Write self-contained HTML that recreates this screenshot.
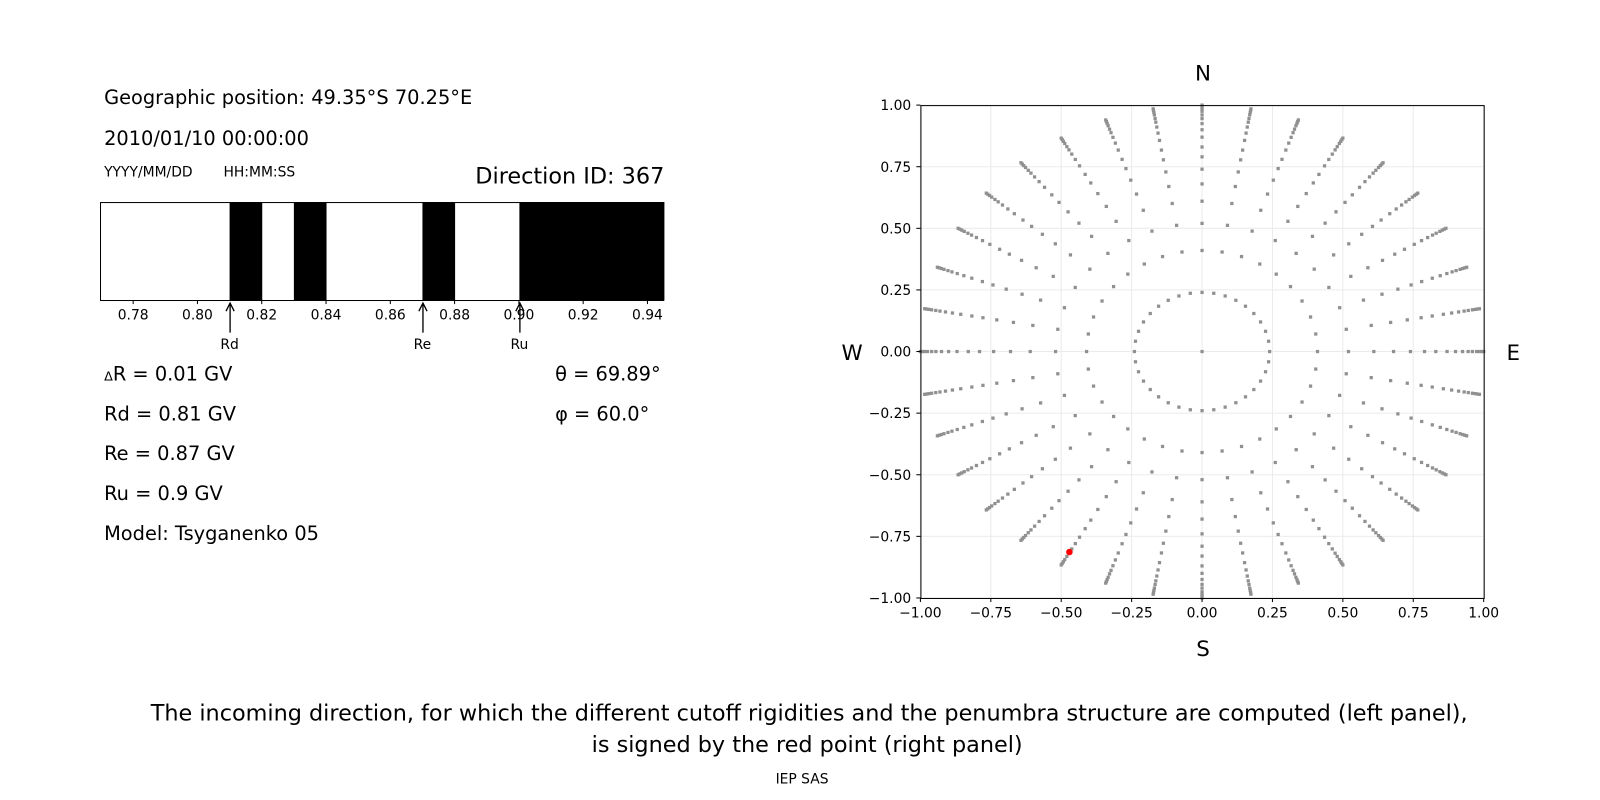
<!DOCTYPE html>
<html><head><meta charset="utf-8"><style>
body{margin:0;background:#fff;}
svg{display:block;font-family:"DejaVu Sans","Liberation Sans",sans-serif;}
</style></head><body>
<svg id="s" width="1600" height="800" viewBox="0 0 1568 784" xmlns="http://www.w3.org/2000/svg">
<rect width="1568" height="784" fill="#fff"/>
<text x="102" y="102" font-size="19">Geographic position: 49.35°S 70.25°E</text>
<text x="102" y="142" font-size="19">2010/01/10 00:00:00</text>
<text x="102" y="173" font-size="13.6">YYYY/MM/DD</text>
<text x="219" y="173" font-size="13.6">HH:MM:SS</text>
<text x="651" y="180" font-size="21.9" text-anchor="end">Direction ID: 367</text>
<rect x="98.5" y="198.5" width="552" height="96" fill="#fff" stroke="#000"/>
<rect x="225" y="198" width="32" height="96" fill="#000"/>
<rect x="288" y="198" width="32" height="96" fill="#000"/>
<rect x="414" y="198" width="32" height="96" fill="#000"/>
<rect x="509" y="198" width="142" height="96" fill="#000"/>
<g font-size="13.6" text-anchor="middle" id="bt"></g>
<g stroke="#000" stroke-width="1.3" fill="none">
<path d="M225.5 326V298M221.5 305L225.5 297L229.5 305"/>
<path d="M414.5 326V298M410.5 305L414.5 297L418.5 305"/>
<path d="M509.5 326V298M505.5 305L509.5 297L513.5 305"/>
</g>
<g font-size="13.6" text-anchor="middle">
<text x="225" y="342">Rd</text><text x="414" y="342">Re</text><text x="509" y="342">Ru</text>
</g>
<g font-size="19">
<text x="102" y="373"><tspan font-size="12.5">Δ</tspan>R = 0.01 GV</text>
<text x="102" y="412">Rd = 0.81 GV</text>
<text x="102" y="451">Re = 0.87 GV</text>
<text x="102" y="490">Ru = 0.9 GV</text>
<text x="102" y="529">Model: Tsyganenko 05</text>
<text x="544" y="373">θ = 69.89°</text>
<text x="544" y="412">φ = 60.0°</text>
</g>
<g id="grid" stroke="#ebebeb" stroke-width="1"></g>
<g id="dots" fill="#909090"></g>
<circle cx="1048" cy="541" r="3.2" fill="#f00"/>
<rect x="902.5" y="103.5" width="552" height="483" fill="none" stroke="#000"/>
<g id="ax" font-size="13.6"></g>
<g font-size="21" text-anchor="middle">
<text x="1179" y="79">N</text><text x="1179" y="643">S</text>
<text x="835" y="353">W</text><text x="1483" y="353">E</text>
</g>
<g font-size="21.9" text-anchor="middle">
<text x="793" y="706">The incoming direction, for which the different cutoff rigidities and the penumbra structure are computed (left panel),</text>
<text x="791" y="737">is signed by the red point (right panel)</text>
</g>
<text x="786" y="768" font-size="13.6" text-anchor="middle">IEP SAS</text>
</svg>
<script>
var NS="http://www.w3.org/2000/svg";
function el(p,t,a,txt){var e=document.createElementNS(NS,t);for(var k in a)e.setAttribute(k,a[k]);if(txt!==undefined)e.textContent=txt;document.getElementById(p).appendChild(e);}
[0.78,0.80,0.82,0.84,0.86,0.88,0.90,0.92,0.94].forEach(function(v){var x=99+(v-0.77)*3150;
el("bt","line",{x1:x,x2:x,y1:294,y2:298,stroke:"#000"});el("bt","text",{x:x,y:313},v.toFixed(2));});
var cx=1178,cy=344.5,sx=276,sy=241.5;
var vals=[-1,-0.75,-0.5,-0.25,0,0.25,0.5,0.75,1];
vals.forEach(function(v){var x=cx+v*sx,y=cy-v*sy;
el("grid","line",{x1:x,x2:x,y1:103,y2:586});el("grid","line",{x1:902,x2:1454,y1:y,y2:y});
var l=v.toFixed(2).replace("-","\u2212");
el("ax","line",{x1:x,x2:x,y1:586,y2:590,stroke:"#000"});el("ax","text",{x:x,y:605,"text-anchor":"middle"},l);
el("ax","line",{x1:898,x2:902,y1:y,y2:y,stroke:"#000"});el("ax","text",{x:893,y:y+5,"text-anchor":"end"},l);});
el("dots","rect",{x:cx-1.6,y:cy-1.6,width:3.2,height:3.2});
var R=[0.24,0.41,0.52,0.61,0.68,0.74,0.79,0.83,0.87,0.90,0.925,0.945,0.96,0.975,0.985,0.993,1.0];
R.forEach(function(r,i){for(var k=0;k<36;k++){var a=k*10*Math.PI/180;
var x=cx+r*Math.sin(a)*sx,y=cy-r*Math.cos(a)*sy;
el("dots","rect",{x:x-1.6,y:y-1.6,width:3.2,height:3.2});}});
</script>
</body></html>
